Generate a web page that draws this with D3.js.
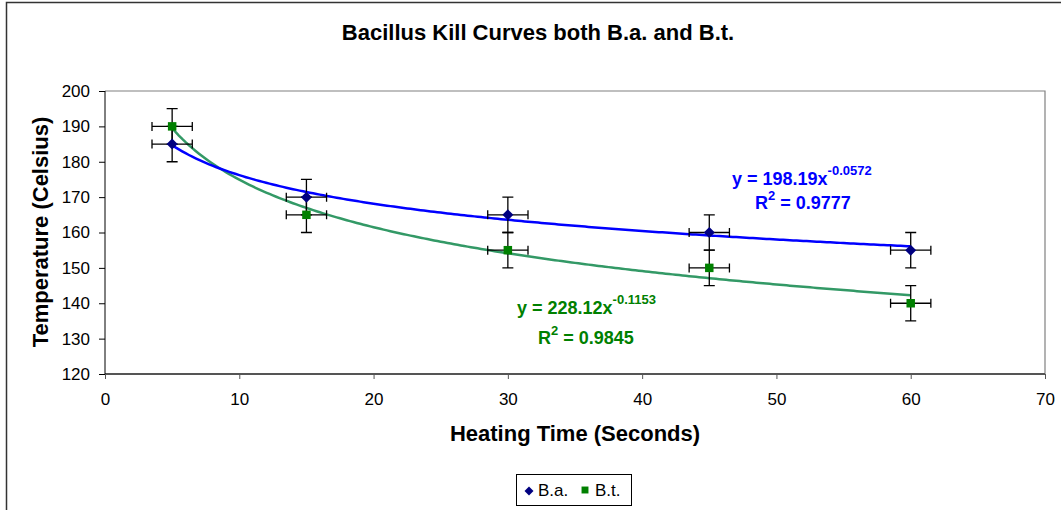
<!doctype html>
<html lang="en">
<head>
    <meta charset="UTF-8">
    <title>Bacillus Kill Curves</title>
    <style>
        body { margin: 0; background: #fff; }
        svg { font-family: "Liberation Sans", Arial, sans-serif; }
    </style>
</head>
<body>

<div class="canvas"></div>

<script src="https://d3js.org/d3.v7.min.js"></script>
<script>
    // data
    const times = [5, 15, 30, 45, 60];
    const baTemps = [185, 170, 165, 160, 155];
    const btTemps = [190, 165, 155, 150, 140];
    const xErr = 1.5;
    const yErr = 5;
    // trendline labels as printed on the chart
    const baLabel = ['198.19', '-0.0572', '0.9777'];
    const btLabel = ['228.12', '-0.1153', '0.9845'];
    const xTicks = [0, 10, 20, 30, 40, 50, 60, 70];
    const yTicks = [120, 130, 140, 150, 160, 170, 180, 190, 200];

    const svgWidth = 1061;
    const svgHeight = 510;
    const plot = { left: 105, right: 1045, top: 91, bottom: 374 };
    const font = '"Liberation Sans", Arial, sans-serif';

    const svg = d3.select('.canvas').append('svg')
        .attr('width', svgWidth)
        .attr('height', svgHeight);

    // chart border (cropped at right and bottom)
    svg.append('rect')
        .attr('x', 6.5).attr('y', 2.5)
        .attr('width', 1100).attr('height', 600)
        .attr('fill', 'none')
        .attr('stroke', '#333')
        .attr('stroke-width', 1.5);

    const x = d3.scaleLinear().domain([0, 70]).range([plot.left, plot.right]);
    const y = d3.scaleLinear().domain([120, 200]).range([plot.bottom, plot.top]);

    // plot area border (top/right grey)
    svg.append('path')
        .attr('d', `M${plot.left},${plot.top}H${plot.right}V${plot.bottom}`)
        .attr('fill', 'none')
        .attr('stroke', '#808080')
        .attr('stroke-width', 1.2);

    const xAxis = d3.axisBottom(x).tickValues(xTicks).tickSize(5).tickPadding(14);
    const yAxis = d3.axisLeft(y).tickValues(yTicks).tickSize(6).tickPadding(9);

    const xAxisGroup = svg.append('g')
        .attr('transform', `translate(0, ${plot.bottom})`)
        .call(xAxis);
    xAxisGroup.attr('font-size', 17).attr('font-family', font);
    xAxisGroup.select('.domain').attr('stroke', '#555').attr('stroke-width', 2).attr('d', `M${plot.left},0H${plot.right}`);
    xAxisGroup.selectAll('.tick line').attr('stroke', '#555');

    const yAxisGroup = svg.append('g')
        .attr('transform', `translate(${plot.left}, 0)`)
        .call(yAxis);
    yAxisGroup.attr('font-size', 17).attr('font-family', font);
    yAxisGroup.select('.domain').attr('stroke', '#000').attr('d', `M0,${plot.top}V${plot.bottom}`);

    svg.selectAll('.tick text')
        .style('font-size', '17px')
        .attr('fill', '#000');

    // titles
    svg.append('text')
        .attr('x', 538).attr('y', 40)
        .attr('text-anchor', 'middle')
        .attr('font-size', 22).attr('font-weight', 'bold')
        .text('Bacillus Kill Curves both B.a. and B.t.');

    svg.append('text')
        .attr('x', 575).attr('y', 441)
        .attr('text-anchor', 'middle')
        .attr('font-size', 22).attr('font-weight', 'bold')
        .text('Heating Time (Seconds)');

    svg.append('text')
        .attr('transform', 'translate(48, 232) rotate(-90)')
        .attr('text-anchor', 'middle')
        .attr('font-size', 22).attr('font-weight', 'bold')
        .text('Temperature (Celsius)');

    // power trendline: least squares on log-log of the series
    const powerFit = (xs, ys) => {
        const lx = xs.map(Math.log), ly = ys.map(Math.log);
        const mx = d3.mean(lx), my = d3.mean(ly);
        const b = d3.sum(lx, (v, i) => (v - mx) * (ly[i] - my)) / d3.sum(lx, v => (v - mx) * (v - mx));
        const a = Math.exp(my - b * mx);
        return [a, b];
    };

    const fitLine = (fit) => {
        const xs = d3.range(times[0], times[times.length - 1] + 0.01, 0.25);
        return d3.line()
            .x(d => x(d))
            .y(d => y(fit[0] * Math.pow(d, fit[1])))(xs);
    };

    svg.append('path')
        .attr('d', fitLine(powerFit(times, btTemps)))
        .attr('fill', 'none')
        .attr('stroke', '#339966')
        .attr('stroke-width', 2.5);

    svg.append('path')
        .attr('d', fitLine(powerFit(times, baTemps)))
        .attr('fill', 'none')
        .attr('stroke', '#0000ff')
        .attr('stroke-width', 2.5);

    // error bars
    const drawErrors = (temps) => {
        const g = svg.append('g').attr('stroke', '#000').attr('stroke-width', 1.3).attr('fill', 'none');
        times.forEach((t, i) => {
            const cx = x(t), cy = y(temps[i]);
            const x0 = x(t - xErr), x1 = x(t + xErr);
            const y0 = y(temps[i] - yErr), y1 = y(temps[i] + yErr);
            g.append('path').attr('d',
                `M${x0},${cy}H${x1}M${x0},${cy - 4.5}V${cy + 4.5}M${x1},${cy - 4.5}V${cy + 4.5}` +
                `M${cx},${y0}V${y1}M${cx - 5.5},${y0}H${cx + 5.5}M${cx - 5.5},${y1}H${cx + 5.5}`);
        });
    };
    drawErrors(baTemps);
    drawErrors(btTemps);

    // markers (Excel style diamond: equal width and height)
    const diamondPath = (r) => `M0,${-r}L${r},0L0,${r}L${-r},0Z`;
    const square = d3.symbol().type(d3.symbolSquare).size(72);

    svg.append('g').selectAll('path')
        .data(times)
        .enter().append('path')
        .attr('d', square)
        .attr('transform', (d, i) => `translate(${x(d)}, ${y(btTemps[i])})`)
        .attr('fill', '#008000');

    svg.append('g').selectAll('path')
        .data(times)
        .enter().append('path')
        .attr('d', diamondPath(5.5))
        .attr('transform', (d, i) => `translate(${x(d)}, ${y(baTemps[i])})`)
        .attr('fill', '#000080');

    // equation labels
    const eq = (label, color, x1, y1, x2, y2) => {
        const t1 = svg.append('text')
            .attr('x', x1).attr('y', y1)
            .attr('font-size', 18).attr('font-weight', 'bold')
            .attr('fill', color);
        t1.append('tspan').text(`y = ${label[0]}x`);
        t1.append('tspan').attr('dy', -10).attr('font-size', 13).text(label[1]);

        const t2 = svg.append('text')
            .attr('x', x2).attr('y', y2)
            .attr('font-size', 18).attr('font-weight', 'bold')
            .attr('fill', color);
        t2.append('tspan').text('R');
        t2.append('tspan').attr('dy', -9).attr('font-size', 13).text('2');
        t2.append('tspan').attr('dy', 9).text(` = ${label[2]}`);
    };
    eq(baLabel, '#0000ff', 732, 185, 755, 209);
    eq(btLabel, '#008000', 517, 314, 538, 344);

    // legend
    const legend = svg.append('g');
    legend.append('rect')
        .attr('x', 516.5).attr('y', 474.5)
        .attr('width', 115).attr('height', 31)
        .attr('fill', '#fff')
        .attr('stroke', '#000')
        .attr('stroke-width', 1);
    legend.append('path')
        .attr('d', diamondPath(4.5))
        .attr('transform', 'translate(529, 491)')
        .attr('fill', '#000080');
    legend.append('text')
        .attr('x', 538).attr('y', 496)
        .attr('font-size', 17)
        .text('B.a.');
    legend.append('path')
        .attr('d', d3.symbol().type(d3.symbolSquare).size(48))
        .attr('transform', 'translate(585, 490)')
        .attr('fill', '#008000');
    legend.append('text')
        .attr('x', 595).attr('y', 496)
        .attr('font-size', 17)
        .text('B.t.');
</script>
</body>
</html>
